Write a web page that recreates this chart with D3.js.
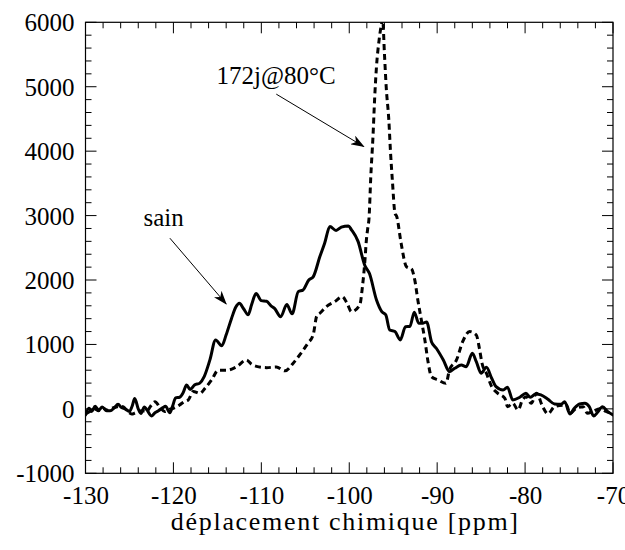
<!DOCTYPE html>
<html>
<head>
<meta charset="utf-8">
<script src="https://cdn.jsdelivr.net/npm/d3@7/dist/d3.min.js"></script>
<style>
  html, body { margin: 0; padding: 0; background: #fff; }
  svg text { font-family: 'Liberation Serif', 'Times New Roman', Tinos !important; }
</style>
</head>
<body>
<svg id="chart" width="625" height="550" font-family="Liberation Serif"></svg>
<script>
// ---------- data ----------
const xTicks = [-130, -120, -110, -100, -90, -80, -70];
const yTicks = [-1000, 0, 1000, 2000, 3000, 4000, 5000, 6000];
const xLabel = "déplacement chimique [ppm]";

const sainPpm = [-130.0,-129.6,-129.3,-128.9,-128.5,-128.1,-127.6,-127.2,-126.7,-126.3,-125.9,-125.5,-125.0,-124.7,-124.4,-124.0,-123.7,-123.3,-123.0,-122.5,-122.1,-121.7,-121.2,-120.9,-120.4,-120.1,-119.75,-119.3,-118.9,-118.5,-118.1,-117.6,-117.0,-116.5,-115.85,-115.2,-114.5,-114.0,-113.4,-112.9,-112.5,-112.0,-111.5,-111.1,-110.6,-110.0,-109.4,-108.9,-108.5,-107.8,-107.1,-106.5,-105.8,-105.25,-104.6,-104.1,-103.35,-102.8,-102.2,-101.5,-100.9,-100.1,-99.75,-99.0,-98.24,-97.7,-96.9,-96.3,-95.85,-95.4,-94.8,-94.2,-93.6,-93.1,-92.6,-92.1,-91.6,-91.2,-90.65,-90.1,-89.3,-88.6,-88.0,-87.25,-86.7,-86.0,-85.55,-85.0,-84.4,-83.8,-83.3,-82.5,-82.0,-81.4,-80.6,-79.9,-79.4,-78.8,-78.2,-77.4,-76.65,-75.9,-75.5,-74.9,-74.4,-73.8,-73.2,-72.7,-72.2,-71.7,-71.2,-70.6,-70.0];
const sainVal = [-95,10,-40,40,-20,30,-30,-30,20,70,20,0,-40,40,160,0,-70,30,-20,-110,-60,-30,20,40,-60,40,170,180,250,370,300,370,400,500,760,1070,980,1150,1400,1580,1640,1550,1460,1620,1790,1680,1670,1600,1560,1430,1620,1475,1820,1846,2000,2050,2360,2570,2830,2770,2820,2840,2780,2600,2230,2100,1690,1510,1460,1225,1200,1070,1276,1280,1500,1330,1330,1350,1043,941,759,578,630,681,655,863,733,553,646,475,345,293,335,138,180,242,180,231,216,149,76,71,112,-79,9,76,87,34,-110,-43,34,-43,-95];

const agedPpm = [-130.0,-129.5,-129.0,-128.5,-128.0,-127.5,-127.0,-126.5,-126.0,-125.7,-125.2,-124.75,-124.3,-123.6,-123.05,-122.6,-122.1,-121.5,-121.0,-120.5,-120.0,-119.3,-118.8,-118.3,-117.75,-117.0,-116.4,-115.65,-114.9,-113.95,-112.8,-111.7,-111.1,-110.55,-109.4,-108.3,-107.3,-106.4,-105.5,-104.7,-104.1,-103.7,-103.35,-102.6,-101.65,-100.8,-100.25,-99.75,-98.8,-98.5,-98.24,-98.05,-97.9,-97.75,-97.55,-97.3,-97.1,-96.9,-96.6,-96.35,-96.2,-96.0,-95.8,-95.5,-95.3,-95.1,-94.8,-94.6,-94.1,-93.5,-92.9,-92.55,-92.2,-91.8,-91.4,-91.05,-90.65,-89.9,-89.0,-88.6,-87.8,-87.1,-86.3,-85.55,-85.2,-84.9,-84.4,-83.8,-83.1,-82.3,-82.0,-81.4,-80.8,-80.3,-79.9,-79.3,-78.7,-78.0,-77.4,-76.65,-75.3,-74.9,-74.2,-73.4,-72.9,-72.3,-71.5,-70.8,-70.0];
const agedVal = [-80,-40,0,-30,10,-20,10,30,40,30,-40,-80,-60,-30,-40,40,110,20,-40,-10,10,60,110,140,270,240,320,450,600,600,655,760,690,660,640,650,590,705,863,1019,1150,1440,1484,1587,1665,1742,1640,1509,1613,1897,2261,2623,2800,2960,3606,4227,4850,5315,5730,5960,6050,5520,5003,4486,3969,3555,3037,2985,2571,2208,2168,2002,1691,1380,1070,740,500,449,397,604,759,1043,1199,1147,941,708,553,345,242,164,34,87,-17,138,190,87,242,34,-79,34,60,-69,9,34,-69,-40,0,-40,-80];

// annotations: label, text x (ppm) / baseline (value), arrow start, arrow tip
const annLabels = ["172j@80°C", "sain"];
const annTextAt = [[-115.1, 5045], [-123.4, 2835]];
const annArrowFrom = [[-108.3, 4885], [-120.4, 2649]];
const annArrowTo = [[-98.35, 4071], [-114.0, 1629]];

// ---------- layout ----------
const FONT = "Liberation Serif";
const margin = {left: 85.5, right: 12, top: 22.3, bottom: 76.7};
const W = 625, H = 550;
const iw = W - margin.left - margin.right;
const ih = H - margin.top - margin.bottom;

const svg = d3.select("#chart");
const x = d3.scaleLinear().domain([-130, -70]).range([0, iw]);
const y = d3.scaleLinear().domain([-1000, 6000]).range([ih, 0]);

function serif(t, size) {
  return t.attr("font-family", FONT).attr("font-size", size)
          .style("font-family", "'Liberation Serif'").style("font-size", size + "px")
          .attr("fill", "#000");
}

// x label (created first)
serif(svg.append("text"), 26)
  .attr("x", margin.left + iw / 2 - 4).attr("y", 530)
  .attr("text-anchor", "middle").style("letter-spacing", "1.7px")
  .text(xLabel);

const g = svg.append("g").attr("transform", `translate(${margin.left},${margin.top})`);

// annotations text
const annG = g.append("g");
annLabels.forEach((t, i) => {
  serif(annG.append("text"), 25)
    .attr("x", x(annTextAt[i][0])).attr("y", y(annTextAt[i][1])).text(t);
});

// tick labels through d3 axes
const xAxis = g.append("g").attr("transform", `translate(0,${ih})`)
  .call(d3.axisBottom(x).tickValues(xTicks).tickSize(0).tickPadding(13).tickFormat(d => String(d)));
const yAxis = g.append("g")
  .call(d3.axisLeft(y).tickValues(yTicks).tickSize(0).tickPadding(11).tickFormat(d => String(d)));
[xAxis, yAxis].forEach(a => {
  a.attr("font-family", FONT).attr("font-size", 25);
  a.select(".domain").remove();
  serif(a.selectAll("text"), 25);
});
yAxis.selectAll("text").attr("dy", "0.34em");
xAxis.selectAll("text").attr("dy", "0.72em");

const defs = svg.append("defs");
defs.append("clipPath").attr("id", "plotclip")
  .append("rect").attr("x", 0).attr("y", 0).attr("width", iw).attr("height", ih);
defs.append("marker")
  .attr("id", "arrowhead").attr("viewBox", "0 0 14 10")
  .attr("refX", 13).attr("refY", 5)
  .attr("markerWidth", 14).attr("markerHeight", 10)
  .attr("markerUnits", "userSpaceOnUse")
  .attr("orient", "auto")
  .append("path").attr("d", "M0,0 L14,5 L0,10 L4,5 Z").attr("fill", "#000");

// inward ticks on all four sides
const xMinor = d3.range(-130, -69.9, 2);
const yMinor = d3.range(-1000, 6001, 200);
const majorLen = 11, minorLen = 6;
const ticksG = g.append("g").attr("stroke", "#000").attr("stroke-width", 1);
xMinor.forEach(v => {
  const L = (xTicks.includes(Math.round(v))) ? majorLen : minorLen;
  ticksG.append("line").attr("x1", x(v)).attr("x2", x(v)).attr("y1", ih).attr("y2", ih - L);
  ticksG.append("line").attr("x1", x(v)).attr("x2", x(v)).attr("y1", 0).attr("y2", L);
});
yMinor.forEach(v => {
  const L = (yTicks.includes(Math.round(v))) ? majorLen : minorLen;
  ticksG.append("line").attr("y1", y(v)).attr("y2", y(v)).attr("x1", 0).attr("x2", L);
  ticksG.append("line").attr("y1", y(v)).attr("y2", y(v)).attr("x1", iw).attr("x2", iw - L);
});

// frame
g.append("rect").attr("x", 0).attr("y", 0).attr("width", iw).attr("height", ih)
  .attr("fill", "none").attr("stroke", "#000").attr("stroke-width", 1.2);

// curves
const line = d3.line().x(d => x(d[0])).y(d => y(d[1])).curve(d3.curveMonotoneX);
const sain = sainPpm.map((p, i) => [p, sainVal[i]]);
const aged = agedPpm.map((p, i) => [p, agedVal[i]]);

const plot = g.append("g").attr("clip-path", "url(#plotclip)");
plot.append("path").datum(aged).attr("d", line)
  .attr("fill", "none").attr("stroke", "#000").attr("stroke-width", 3)
  .attr("stroke-dasharray", "6,4").attr("stroke-linejoin", "round");
plot.append("path").datum(sain).attr("d", line)
  .attr("fill", "none").attr("stroke", "#000").attr("stroke-width", 3)
  .attr("stroke-linejoin", "round").attr("stroke-linecap", "round");

// annotation arrows
annLabels.forEach((t, i) => {
  g.append("line")
    .attr("x1", x(annArrowFrom[i][0])).attr("y1", y(annArrowFrom[i][1]))
    .attr("x2", x(annArrowTo[i][0])).attr("y2", y(annArrowTo[i][1]))
    .attr("stroke", "#000").attr("stroke-width", 1).attr("marker-end", "url(#arrowhead)");
});
</script>
</body>
</html>
